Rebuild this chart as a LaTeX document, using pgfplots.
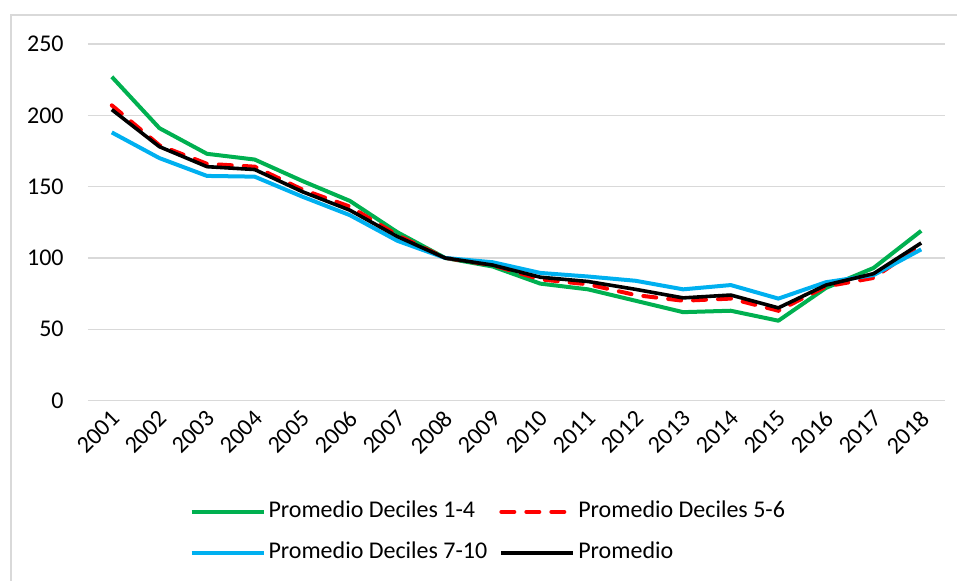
\documentclass[border=0pt]{standalone}
\usepackage{pgfplots}
\pgfplotsset{compat=1.18}
\usepackage{fontspec}
\setmainfont{Carlito}
\definecolor{cgreen}{HTML}{00B050}
\definecolor{cblue}{HTML}{00B0F0}
\definecolor{cred}{HTML}{FF0000}
\definecolor{cgrid}{HTML}{D9D9D9}
\begin{document}
\fontsize{12pt}{14pt}\selectfont
\begin{tikzpicture}
\useasboundingbox (0pt,0pt) rectangle (478.5pt,-290.5pt);
\draw[cgrid, line width=0.75pt] (5.5pt,-300pt) -- (5.5pt,-7.5pt) -- (490pt,-7.5pt);
\begin{axis}[
  at={(44pt,-22pt)}, anchor=north west,
  scale only axis, width=428.5pt, height=178.3pt,
  xmin=-0.5, xmax=17.5, ymin=0, ymax=250,
  xtick={0,...,17},
  xticklabels={2001,2002,2003,2004,2005,2006,2007,2008,2009,2010,2011,2012,2013,2014,2015,2016,2017,2018},
  ytick={0,50,100,150,200,250},
  ymajorgrids, major grid style={cgrid, line width=0.75pt},
  axis line style={draw=none},
  major tick length=0pt,
  tick style={draw=none},
  /pgf/number format/assume math mode=true,
  ticklabel style={font=\fontsize{12pt}{14pt}\selectfont},
  yticklabel style={inner sep=0pt, anchor=east, xshift=-12pt},
  xticklabel style={inner sep=0pt, xshift=2pt, yshift=-7pt, rotate=45, anchor=east},
  legend columns=2,
  legend style={draw=none, fill=none, inner sep=0pt, at={(0.118,-0.283)}, anchor=north west,
    font=\fontsize{12pt}{14pt}\selectfont, row sep=10.5pt,
    nodes={inner sep=0pt, text height=8pt, text depth=2pt},
    /tikz/every odd column/.append style={column sep=1.5pt},
    /tikz/every even column/.append style={column sep=6pt}},
  legend image code/.code={\draw[#1] (0pt,0pt) -- (36pt,0pt);},
  legend cell align=left,
]
\addplot[cgreen, line width=2pt, line join=round] coordinates {
(0,227)(1,191)(2,173)(3,169)(4,154)(5,140)(6,118)(7,100)(8,94)(9,82)(10,78)(11,70)(12,62)(13,63)(14,56)(15,79)(16,93)(17,119)};
\addlegendentry{Promedio Deciles 1-4}
\addplot[cred, line width=2pt, line cap=round, dash pattern=on 6.5pt off 6pt] coordinates {
(0,207)(1,179)(2,166)(3,164)(4,148)(5,136)(6,116)(7,100)(8,95)(9,85)(10,81.5)(11,74)(12,70)(13,71.5)(14,63)(15,80)(16,86)(17,109)};
\addlegendentry{Promedio Deciles 5-6}
\addplot[cblue, line width=2pt, line join=round] coordinates {
(0,188)(1,170)(2,157.5)(3,157)(4,143)(5,130)(6,112)(7,100)(8,97)(9,89.5)(10,87)(11,84)(12,78)(13,81)(14,71.5)(15,83)(16,88)(17,106)};
\addlegendentry{Promedio Deciles 7-10}
\addplot[black, line width=1.8pt, line join=round] coordinates {
(0,204)(1,178)(2,164)(3,162)(4,146.5)(5,133.5)(6,115)(7,100)(8,95)(9,86.5)(10,83.5)(11,78)(12,72)(13,74)(14,65)(15,81)(16,89)(17,110.5)};
\addlegendentry{Promedio}
\end{axis}
\end{tikzpicture}
\end{document}
